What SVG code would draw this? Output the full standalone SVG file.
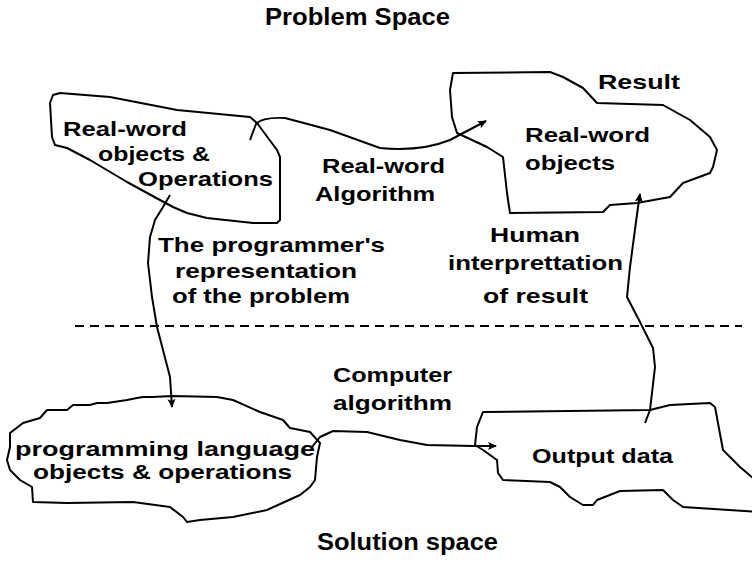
<svg xmlns="http://www.w3.org/2000/svg" width="752" height="562" viewBox="0 0 752 562">
<style>
.bg{fill:#fff}
.node{fill:none;stroke:#000;stroke-width:2;stroke-linejoin:round}
.conn{fill:none;stroke:#000;stroke-width:2;stroke-linejoin:round}
.dash{stroke:#000;stroke-width:2;stroke-dasharray:9 6}
text{font-family:"Liberation Sans",Arial,sans-serif;font-weight:bold;font-size:21px;fill:#000}
.title{font-size:23px}
</style>
<defs>
<marker id="arr" markerUnits="userSpaceOnUse" markerWidth="10" markerHeight="10" refX="8" refY="4" orient="auto">
<path d="M0,0 L9,4 L0,8 L2,4 Z" fill="#000"/>
</marker>
</defs>
<rect class="bg" x="0" y="0" width="752" height="562"/>
<text class="title" x="265" y="25" textLength="185" lengthAdjust="spacingAndGlyphs">Problem Space</text>
<text class="title" x="317" y="550" textLength="181" lengthAdjust="spacingAndGlyphs">Solution space</text>
<line class="dash" x1="75" y1="326" x2="742" y2="326"/>
<g id="node-realworld-ops">
<path class="node" d="M53,95 L60,93 L110,97 L177,110 L250,117 L257,123 L277,150 L280,157 L280,220 L277,223 L253,223 L207,218 L187,213 L173,207 L160,200 L127,182 L90,160 L67,148 L55,145 L52,137 L50,103 Z"/>
<text x="63" y="136" textLength="124" lengthAdjust="spacingAndGlyphs">Real-word</text>
<text x="98" y="161" textLength="112" lengthAdjust="spacingAndGlyphs">objects &amp;</text>
<text x="138" y="186" textLength="135" lengthAdjust="spacingAndGlyphs">Operations</text>
</g>
<g id="node-realworld-objects">
<path class="node" d="M453,73 L550,72 L563,77 L583,88 L597,103 L663,105 L690,120 L710,137 L717,150 L713,167 L710,173 L683,183 L670,197 L637,203 L610,205 L603,212 L510,213 L507,193 L503,157 L487,147 L457,133 L452,117 L450,90 Z"/>
<text x="598" y="89" textLength="82" lengthAdjust="spacingAndGlyphs">Result</text>
<text x="525" y="142" textLength="125" lengthAdjust="spacingAndGlyphs">Real-word</text>
<text x="525" y="170" textLength="90" lengthAdjust="spacingAndGlyphs">objects</text>
</g>
<g id="node-programming">
<path class="node" d="M152,397 L173,396 L217,397 L233,400 L260,412 L283,420 L290,428 L310,432 L320,443 L317,457 L315,480 L310,487 L300,495 L267,510 L233,517 L200,520 L187,522 L183,517 L170,507 L133,502 L67,503 L33,502 L32,487 L20,480 L10,470 L7,460 L10,447 L10,433 L23,423 L40,418 L47,410 L67,410 L73,405 L90,405 L97,403 L107,403 L127,400 L137,398 L143,397 Z"/>
<text x="15" y="456" textLength="300" lengthAdjust="spacingAndGlyphs">programming language</text>
<text x="33" y="479" textLength="259" lengthAdjust="spacingAndGlyphs">objects &amp; operations</text>
</g>
<g id="node-output">
<path class="node" d="M483,412 L650,410 L670,405 L710,403 L715,407 L723,450 L740,467 L760,484 L760,512 L683,507 L673,500 L663,490 L620,491 L597,500 L593,505 L583,505 L570,497 L560,487 L550,482 L503,480 L498,473 L497,460 L483,450 L475,445 L477,427 Z"/>
<text x="532" y="463" textLength="141" lengthAdjust="spacingAndGlyphs">Output data</text>
</g>
<g id="connectors">
<path class="conn" marker-end="url(#arr)" d="M250,140 L256,124 Q262,117 285,118 L330,130 L380,148 Q420,152 450,140 L486,121"/>
<path class="conn" marker-end="url(#arr)" d="M170,195 L163,207 L155,220 L150,237 L148,263 L152,297 L157,327 L163,350 L170,377 L172,407"/>
<path class="conn" marker-end="url(#arr)" d="M312,447 L320,437 L333,431 L367,432 L400,440 L427,445 L473,446 L496,446"/>
<path class="conn" marker-end="url(#arr)" d="M645,423 L650,410 L655,367 L653,348 L640,322 L627,297 L630,267 L638,207 L640,194"/>
<text x="322" y="173" textLength="123" lengthAdjust="spacingAndGlyphs">Real-word</text>
<text x="315" y="201" textLength="120" lengthAdjust="spacingAndGlyphs">Algorithm</text>
<text x="158" y="252" textLength="227" lengthAdjust="spacingAndGlyphs">The programmer's</text>
<text x="175" y="278" textLength="182" lengthAdjust="spacingAndGlyphs">representation</text>
<text x="172" y="303" textLength="178" lengthAdjust="spacingAndGlyphs">of the problem</text>
<text x="490" y="242" textLength="90" lengthAdjust="spacingAndGlyphs">Human</text>
<text x="448" y="270" textLength="175" lengthAdjust="spacingAndGlyphs">interprettation</text>
<text x="483" y="303" textLength="105" lengthAdjust="spacingAndGlyphs">of result</text>
<text x="333" y="382" textLength="119" lengthAdjust="spacingAndGlyphs">Computer</text>
<text x="333" y="410" textLength="119" lengthAdjust="spacingAndGlyphs">algorithm</text>
</g>
</svg>
